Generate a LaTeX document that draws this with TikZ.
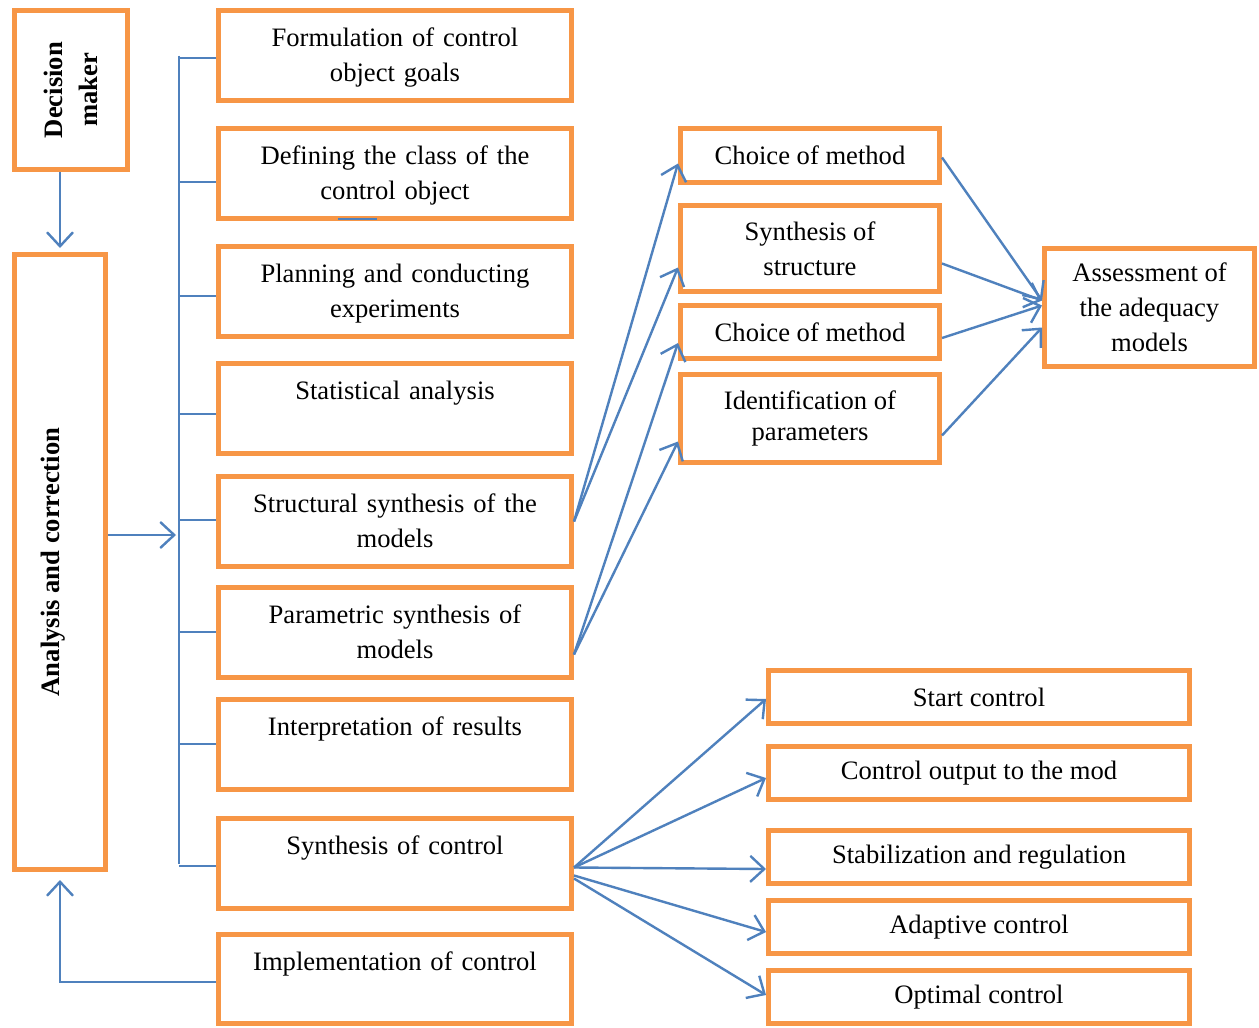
\documentclass[tikz,border=0pt]{standalone}
\usepackage{fontspec}
\setmainfont{Liberation Serif}
\usetikzlibrary{arrows.meta,calc}
\definecolor{boxorange}{HTML}{F79646}
\definecolor{lineblue}{HTML}{4F81BD}
\begin{document}
\begin{tikzpicture}[x=0.5pt,y=-0.5pt,
  box/.style={draw=boxorange,line width=2.5pt,fill=white,inner sep=0pt},
  lbox/.style={box,minimum width=176.5pt,minimum height=45pt},
  mbox/.style={box,minimum width=129.5pt,align=center,font=\fontsize{13.3}{17.5}\selectfont},
  rbox/.style={box,minimum width=210.5pt,minimum height=26.5pt,font=\fontsize{13.3}{17.5}\selectfont},
  conn/.style={draw=lineblue,line width=1.2pt},
  arr/.style={conn,-{Straight Barb[length=7pt,width=13pt]}},
  txt/.style={font=\fontsize{13.3}{17.5}\selectfont,align=center,text width=170pt,inner sep=0pt,anchor=north},
  rot/.style={rotate=90,font=\fontsize{13.3}{17.5}\selectfont\bfseries,align=center,inner sep=0pt}]
\useasboundingbox (0,0) rectangle (1259,1028);
\fill[white] (0,0) rectangle (1259,1028);

% left boxes
\node[box,minimum width=56.5pt,minimum height=79.5pt] (dm) at (71,90) {};
\node[rot] (dmt) at (71,90) {Decision\\maker};
\node[box,minimum width=45.5pt,minimum height=307.5pt] (ac) at (60,562) {};
\node[rot] (act) at (53,562) {Analysis and correction};

% main column
\node[lbox] (b1) at (395,55.5) {};
\node[lbox] (b2) at (395,173.5) {};
\node[lbox] (b3) at (395,291.5) {};
\node[lbox] (b4) at (395,408.5) {};
\node[lbox] (b5) at (395,521.5) {};
\node[lbox] (b6) at (395,632.5) {};
\node[lbox] (b7) at (395,744.5) {};
\node[lbox] (b8) at (395,863.5) {};
\node[lbox,minimum height=44.5pt] (b9) at (395,979) {};
\node[txt] (t1) at ($(b1.north)+(0,14)$) {\strut Formulation of control\\object goals};
\node[txt] (t2) at ($(b2.north)+(0,14)$) {\strut Defining the class of the\\control object};
\node[txt] (t3) at ($(b3.north)+(0,14)$) {\strut Planning and conducting\\experiments};
\node[txt] (t4) at ($(b4.north)+(0,14)$) {\strut Statistical analysis};
\node[txt] (t5) at ($(b5.north)+(0,14)$) {\strut Structural synthesis of the\\models};
\node[txt] (t6) at ($(b6.north)+(0,14)$) {\strut Parametric synthesis of\\models};
\node[txt] (t7) at ($(b7.north)+(0,14)$) {\strut Interpretation of results};
\node[txt] (t8) at ($(b8.north)+(0,14)$) {\strut Synthesis of control};
\node[txt] (t9) at ($(b9.north)+(0,14)$) {\strut Implementation of control};

% middle column
\node[mbox,minimum height=27pt] (m1) at (810,155.5) {Choice of method};
\node[mbox,minimum height=43pt] (m2) at (810,248.5) {Synthesis of\\structure};
\node[mbox,minimum height=26.5pt] (m3) at (810,332) {Choice of method};
\node[mbox,minimum height=44pt,font=\fontsize{13.3}{15.5}\selectfont] (m4) at (810,418.5) {Identification of\\parameters};
\node[mbox,minimum width=105pt,minimum height=59pt] (as) at (1149.5,307.5) {Assessment of\\the adequacy\\models};

% right bottom column
\node[rbox] (r1) at (979,697) {Start control};
\node[rbox] (r2) at (979,773) {Control output to the mod};
\node[rbox] (r3) at (979,857) {Stabilization and regulation};
\node[rbox] (r4) at (979,927) {Adaptive control};
\node[rbox] (r5) at (979,997) {Optimal control};

% bracket
\coordinate (brk) at (179,0);
\draw[conn] (b1.west -| brk) -- (b8.west -| brk);
\foreach \n/\d in {b1/2.5,b2/8.5,b3/4.5,b4/5.5,b5/-1.5,b6/-0.5,b7/-0.5,b8/2.5}
  \draw[conn] ($(\n.west -| brk)+(0,\d)$) -- ($(\n.west)+(0,\d)$);
\draw[conn] ($(b2.south)+(-57,-2)$) -- ($(b2.south)+(-18,-2)$);

% left arrows
\draw[arr] (ac.north |- dm.south) -- ($(ac.north)+(0,-4)$);
\draw[arr] ($(ac.east)+(0,-27)$) -- ($(brk |- ac.east)+(-3,-27)$);
\draw[arr] ($(b9.west)+(0,3)$) -- ($(b9.west -| ac.south)+(0,3)$) -- ($(ac.south)+(0,8)$);

% to middle
\draw[arr] (b5.east) -- ($(m1.west)+(0,8)$);
\draw[arr] (b5.east) -- ($(m2.west)+(0,19)$);
\draw[arr] ($(b6.east)+(0,22)$) -- ($(m3.west)+(0,11)$);
\draw[arr] ($(b6.east)+(0,22)$) -- ($(m4.west)+(0,23)$);

% to assessment
\draw[arr] ($(m1.east)+(0,2)$) -- ($(as.west)+(0,-7)$);
\draw[arr] ($(m2.east)+(0,15)$) -- ($(as.west)+(0,-7)$);
\draw[arr] ($(m3.east)+(0,6)$) -- ($(as.west)+(0,-2)$);
\draw[arr] ($(m4.east)+(0,17)$) -- ($(as.west)+(0,20)$);

% to control types
\draw[arr] ($(b8.east)+(0,4)$) -- ($(r1.west)+(0,2)$);
\draw[arr] ($(b8.east)+(0,4)$) -- ($(r2.west)+(0,5)$);
\draw[arr] ($(b8.east)+(0,4)$) -- ($(r3.west)+(0,12)$);
\draw[arr] ($(b8.east)+(0,12)$) -- ($(r4.west)+(0,5)$);
\draw[arr] ($(b8.east)+(0,15)$) -- ($(r5.west)+(0,-2)$);
\end{tikzpicture}
\end{document}
